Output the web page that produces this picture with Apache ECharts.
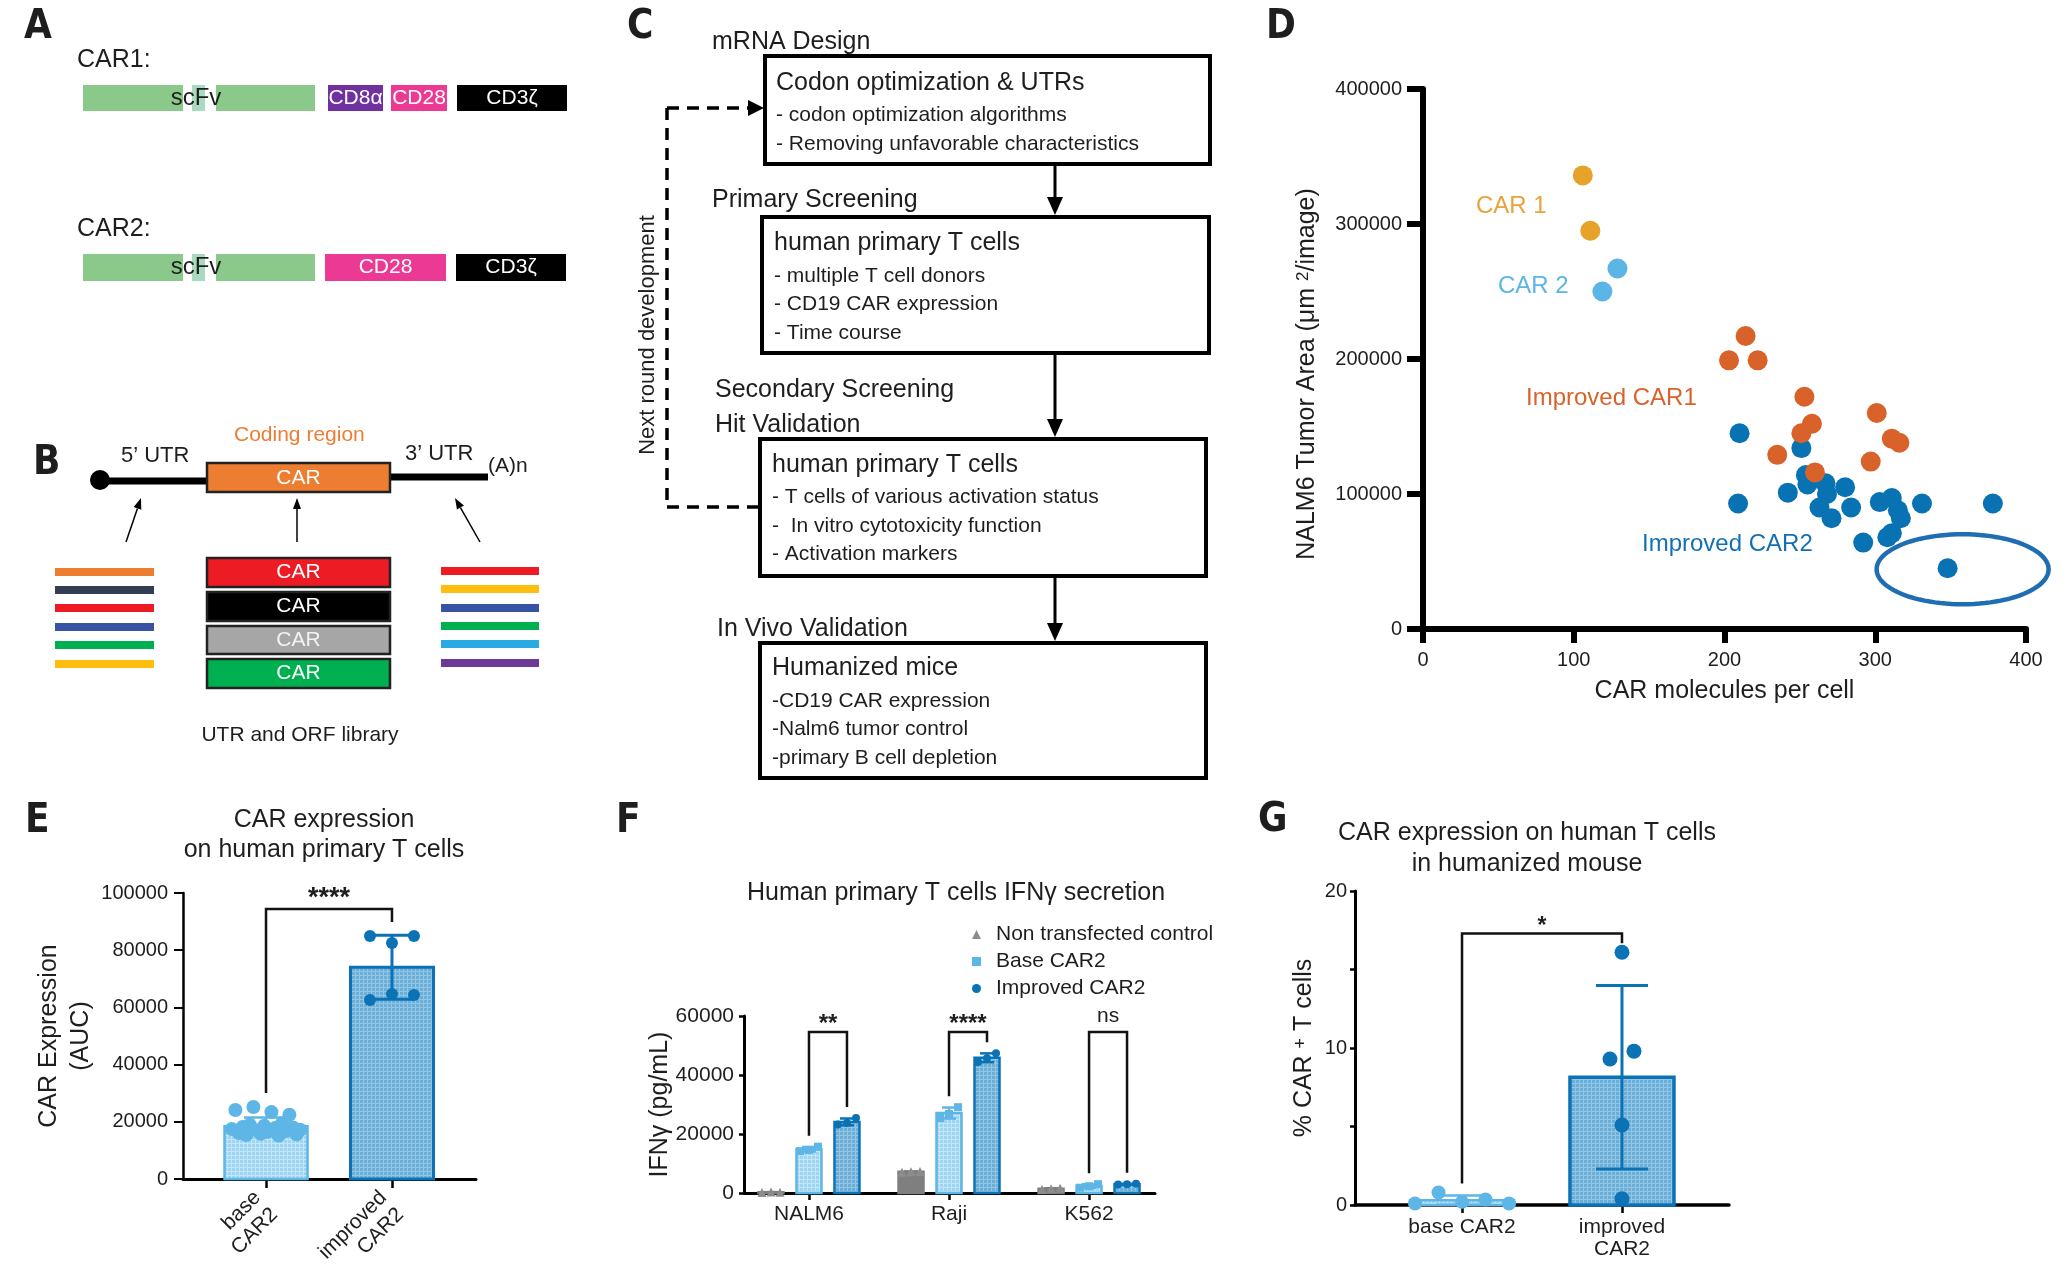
<!DOCTYPE html>
<html><head><meta charset="utf-8">
<script src="https://cdn.jsdelivr.net/npm/echarts@6.0.0/dist/echarts.min.js"></script>
<style>html,body{margin:0;padding:0;background:#fff}#c{width:2069px;height:1282px}</style>
</head><body><div id="c"></div>
<script>
// ================= DATA =================
// Panel D: [CAR molecules per cell, NALM6 tumor area]
const dCar1 = [[106, 336000], [111, 295000]];
const dCar2 = [[129, 267000], [119, 250000]];
const dImprovedCar1 = [[214, 217000], [203, 199000], [222, 199000], [253, 172000], [301, 160000], [258, 152000],
  [251, 145000], [235, 129000], [260, 116000], [297, 124000], [311, 141000], [316, 138000]];
const dImprovedCar2 = [[210, 145000], [251, 134000], [254, 114000], [255, 107000], [242, 101000], [267, 108000],
  [268, 100000], [280, 105000], [209, 93000], [263, 90000], [271, 82000], [284, 90000], [303, 94000], [311, 97000],
  [315, 88000], [317, 82000], [331, 93000], [378, 93000], [292, 64000], [308, 68000], [311, 71000], [348, 45000]];
const dLabels = ['CAR 1', 'CAR 2', 'Improved CAR1', 'Improved CAR2'];

// Panel E
const eCategories = ['base\nCAR2', 'improved\nCAR2'];
const eBaseCAR2 = [17500, 24100, 16100, 18200, 15400, 19000, 25200, 17000, 15800, 18600,
  16500, 23400, 17800, 15200, 19500, 16800, 22500, 18000, 15600, 17200];
const eImprovedCAR2 = [85000, 82500, 85000, 62600, 64700, 64300];
const eSignif = '****';

// Panel F
const fCategories = ['NALM6', 'Raji', 'K562'];
const fSeriesNames = ['Non transfected control', 'Base CAR2', 'Improved CAR2'];
const fNonTransfected = [[200, 300, 250], [7000, 7200, 7300], [1200, 1400, 1600]];
const fBaseCAR2 = [[14200, 14600, 15700], [25400, 26800, 29100], [1800, 2300, 3000]];
const fImprovedCAR2 = [[23200, 23700, 25400], [44400, 45700, 47400], [2900, 3000, 3100]];
const fSignif = ['**', '****', 'ns'];
const fBracketTop = 54600;

// Panel G
const gCategories = ['base CAR2', 'improved\nCAR2'];
const gBaseCAR2 = [0.1, 0.8, 0.2, 0.35, 0.1];
const gImprovedCAR2 = [16.1, 9.3, 9.8, 5.1, 0.4];
const gSignif = '*';
const eBracketTop = 94400, gBracketTop = 17.3;

// ================= STYLE / LAYOUT =================
const FONT = "'Liberation Sans', Arial, Helvetica, sans-serif";
const LETTER_FONT = "'Liberation Sans Narrow', 'DejaVu Sans Condensed', 'Liberation Sans', sans-serif";
const INK = '#1e1e1e';
const LIGHT = '#5DB6E6', DARK = '#0B72B6', GRAY = '#7F7F7F';
function hatch(base, lineColor) {
  const c = document.createElement('canvas'); c.width = 4; c.height = 4;
  const g = c.getContext('2d');
  g.fillStyle = base; g.fillRect(0, 0, 4, 4);
  g.fillStyle = lineColor; g.fillRect(3, 0, 1, 4); g.fillRect(0, 3, 4, 1);
  return {image: c, repeat: 'repeat'};
}
const LIGHT_FILL = hatch('#9DD5F2', '#C3E6F8'), DARK_FILL = hatch('#6BAFD9', '#93C5E5');
const GRIDS = {
  D: {left: 1423, top: 89, width: 603, height: 540},
  E: {left: 183, top: 893, width: 293, height: 286},
  F: {left: 744, top: 1016, width: 411, height: 177},
  G: {left: 1355, top: 891, width: 374, height: 314}
};
const E_X = {min: -0.659, max: 1.667}, F_X = {min: -0.464, max: 2.471}, G_X = {min: -0.669, max: 1.669};
const E_XPX = GRIDS.E.width / (E_X.max - E_X.min), F_XPX = GRIDS.F.width / (F_X.max - F_X.min), G_XPX = GRIDS.G.width / (G_X.max - G_X.min);
const E_YPX = GRIDS.E.height / 100000, F_YPX = GRIDS.F.height / 60000, G_YPX = GRIDS.G.height / 20;
const F_OFF = 38 / F_XPX; // offset of grey / dark bar from group centre

// ================= HELPERS =================
const mean = a => a.reduce((s, v) => s + v, 0) / a.length;
const sd = a => { const m = mean(a); return Math.sqrt(a.reduce((s, v) => s + (v - m) * (v - m), 0) / (a.length - 1)); };
function spreadOffsets(values, pxPerUnit, diam, stepPx) {
  const idx = values.map((v, i) => i).sort((a, b) => values[a] - values[b]);
  const clusters = []; let cur = [idx[0]];
  for (let k = 1; k < idx.length; k++) {
    if ((values[idx[k]] - values[idx[k - 1]]) * pxPerUnit < diam) cur.push(idx[k]);
    else { clusters.push(cur); cur = [idx[k]]; }
  }
  clusters.push(cur);
  const off = new Array(values.length).fill(0);
  clusters.forEach(c => { c.sort((a, b) => a - b); c.forEach((i, j) => { off[i] = (j - (c.length - 1) / 2) * stepPx; }); });
  return off;
}
function points(x, vals, xpx, ypx, diam, step) {
  const off = spreadOffsets(vals, ypx, diam, step);
  return vals.map((v, k) => [x + off[k] / xpx, v]);
}
function barSeries(ax, items, w) {
  return {type: 'custom', xAxisIndex: ax, yAxisIndex: ax, silent: true, z: 2,
    data: items.map(it => [it.x, mean(it.vals)]),
    renderItem: (p, api) => {
      const it = items[p.dataIndex];
      const a = api.coord([api.value(0), 0]), b = api.coord([api.value(0), api.value(1)]);
      return {type: 'rect', shape: {x: a[0] - w / 2, y: b[1], width: w, height: a[1] - b[1]},
        style: {fill: it.fill, stroke: it.stroke, lineWidth: it.lw}};
    }};
}
function errSeries(ax, items, cap) {
  return {type: 'custom', xAxisIndex: ax, yAxisIndex: ax, silent: true, z: 3,
    data: items.map(it => [it.x, mean(it.vals), sd(it.vals)]),
    renderItem: (p, api) => {
      const it = items[p.dataIndex];
      const x = api.value(0), m = api.value(1), s = api.value(2);
      const t = api.coord([x, m + s]), b = api.coord([x, Math.max(0, m - s)]);
      const st = {stroke: it.stroke, lineWidth: it.lw};
      return {type: 'group', children: [
        {type: 'line', shape: {x1: t[0], y1: t[1], x2: b[0], y2: b[1]}, style: st},
        {type: 'line', shape: {x1: t[0] - cap / 2, y1: t[1], x2: t[0] + cap / 2, y2: t[1]}, style: st},
        {type: 'line', shape: {x1: b[0] - cap / 2, y1: b[1], x2: b[0] + cap / 2, y2: b[1]}, style: st}
      ]};
    }};
}
function bracketSeries(ax, items) {
  return {type: 'custom', xAxisIndex: ax, yAxisIndex: ax, silent: true, z: 6,
    data: items.map(it => [it.x1, it.top]),
    renderItem: (p, api) => {
      const it = items[p.dataIndex];
      const a = api.coord([it.x1, it.left]), b = api.coord([it.x1, it.top]);
      const c = api.coord([it.x2, it.top]), d = api.coord([it.x2, it.right]);
      return {type: 'group', children: [
        {type: 'polyline', shape: {points: [a, b, c, d]}, style: {stroke: '#111', lineWidth: 2.5, fill: 'none'}},
        {type: 'text', style: {text: it.label, x: (b[0] + c[0]) / 2, y: b[1] - it.gap, fill: INK,
          font: it.font, textAlign: 'center', textVerticalAlign: 'middle'}}
      ]};
    }};
}

// ================= GRAPHIC (diagrams, titles, letters) =================
const G = [];
function txt(x, y, s, o = {}) {
  G.push({type: 'text', x, y, rotation: o.rot || 0, silent: true, z: 10,
    style: {text: s, fill: o.color || INK, font: (o.bold ? 'bold ' : '') + (o.size || 21) + 'px ' + (o.family || FONT),
      textAlign: o.align || 'left', textVerticalAlign: 'middle'}});
}
function rect(x, y, w, h, fill, stroke, lw) {
  G.push({type: 'rect', silent: true, shape: {x, y, width: w, height: h},
    style: {fill: fill || 'none', stroke: stroke || null, lineWidth: lw || 0}});
}
function line(x1, y1, x2, y2, color, lw, dash) {
  G.push({type: 'line', silent: true, shape: {x1, y1, x2, y2},
    style: {stroke: color || '#000', lineWidth: lw || 2, lineDash: dash || null}});
}
function poly(pts, fill) { G.push({type: 'polygon', silent: true, shape: {points: pts}, style: {fill: fill || '#000'}}); }
function arrow(x1, y1, x2, y2, lw, headL, headW) {
  const dx = x2 - x1, dy = y2 - y1, L = Math.hypot(dx, dy), ux = dx / L, uy = dy / L;
  const bx = x2 - ux * headL, by = y2 - uy * headL;
  line(x1, y1, bx, by, '#000', lw);
  poly([[x2, y2], [bx - uy * headW, by + ux * headW], [bx + uy * headW, by - ux * headW]]);
}
const letter = (x, y, s) => txt(x, y, s, {size: 40, bold: true, family: LETTER_FONT});

// Panel letters
letter(24, 28, 'A'); letter(33, 464, 'B'); letter(627, 28, 'C'); letter(1266, 28, 'D');
letter(25, 822, 'E'); letter(616, 822, 'F'); letter(1258, 821, 'G');

// Panel A
const GREEN = '#8BC98A', LINKER = '#A9D9BE';
txt(77, 60, 'CAR1:', {size: 25});
rect(83, 85, 100, 26, GREEN); rect(192, 85, 13, 26, LINKER); rect(216, 85, 99, 26, GREEN);
rect(328, 85, 55, 26, '#7030A0'); rect(391, 85, 56, 26, '#EC3A94'); rect(457, 85, 110, 26, '#000');
txt(196, 98, 'scFv', {size: 24, align: 'center'});
txt(355.5, 98, 'CD8α', {size: 21, align: 'center', color: '#fff'});
txt(419, 98, 'CD28', {size: 21, align: 'center', color: '#fff'});
txt(512, 98, 'CD3ζ', {size: 21, align: 'center', color: '#fff'});
txt(77, 229, 'CAR2:', {size: 25});
rect(83, 254, 100, 27, GREEN); rect(192, 254, 13, 27, LINKER); rect(216, 254, 99, 27, GREEN);
rect(325, 254, 121, 27, '#EC3A94'); rect(456, 254, 110, 27, '#000');
txt(196, 267, 'scFv', {size: 24, align: 'center'});
txt(385.5, 267, 'CD28', {size: 21, align: 'center', color: '#fff'});
txt(511, 267, 'CD3ζ', {size: 21, align: 'center', color: '#fff'});

// Panel B
G.push({type: 'circle', silent: true, shape: {cx: 100, cy: 480, r: 10}, style: {fill: '#000'}});
line(100, 481, 208, 481, '#000', 7);
line(389, 477, 488, 477, '#000', 7);
rect(207, 463, 183, 29, '#ED7D31', '#222', 2.5);
txt(298.5, 478, 'CAR', {size: 21, align: 'center', color: '#fff'});
txt(121, 456, '5’ UTR', {size: 22});
txt(234, 435, 'Coding region', {size: 21, color: '#ED7D31'});
txt(405, 454, '3’ UTR', {size: 22});
txt(488, 466, '(A)n', {size: 21});
arrow(126, 542, 141, 498, 1.5, 11, 4);
arrow(297, 542, 297, 498, 1.5, 11, 4);
arrow(480, 542, 455, 498, 1.5, 11, 4);
[['#ED7D31', 572], ['#333F50', 590], ['#ED1C24', 608], ['#3953A4', 627], ['#00B050', 645], ['#FDBE10', 664]]
  .forEach(([c, y]) => rect(55, y - 4, 99, 8, c));
[['#ED1C24', 571], ['#FDBE10', 589], ['#3953A4', 608], ['#00B050', 626], ['#29ABE2', 644], ['#6D3A96', 663]]
  .forEach(([c, y]) => rect(441, y - 4, 98, 8, c));
[['#ED1C24', 558, 29, '#fff'], ['#000000', 592, 29, '#fff'], ['#A6A6A6', 626, 28, '#f2f2f2'], ['#00B050', 659, 29, '#fff']]
  .forEach(([c, y, h, tc]) => { rect(207, y, 183, h, c, '#222', 2.5); txt(298.5, y + h / 2, 'CAR', {size: 21, align: 'center', color: tc}); });
txt(300, 735, 'UTR and ORF library', {size: 21, align: 'center'});

// Panel C
rect(765, 56, 445, 108, 'none', '#000', 4);
rect(762, 217, 447, 136, 'none', '#000', 4);
rect(760, 439, 446, 137, 'none', '#000', 4);
rect(760, 643, 446, 135, 'none', '#000', 4);
arrow(1055, 164, 1055, 215, 3, 18, 8);
arrow(1055, 353, 1055, 437, 3, 18, 8);
arrow(1055, 576, 1055, 641, 3, 18, 8);
line(667, 108, 667, 507, '#000', 3.5, [12, 8]);
line(667, 108, 748, 108, '#000', 3.5, [12, 8]);
poly([[764, 108], [748, 100], [748, 116]]);
line(667, 507, 760, 507, '#000', 3.5, [12, 8]);
txt(648, 335, 'Next round development', {size: 22, align: 'center', rot: Math.PI / 2});
txt(712, 42, 'mRNA Design', {size: 25});
txt(776, 83, 'Codon optimization & UTRs', {size: 25});
txt(776, 115, '- codon optimization algorithms', {size: 21});
txt(776, 144, '- Removing unfavorable characteristics', {size: 21});
txt(712, 200, 'Primary Screening', {size: 25});
txt(774, 243, 'human primary T cells', {size: 25});
txt(774, 276, '- multiple T cell donors', {size: 21});
txt(774, 304, '- CD19 CAR expression', {size: 21});
txt(774, 333, '- Time course', {size: 21});
txt(715, 390, 'Secondary Screening', {size: 25});
txt(715, 425, 'Hit Validation', {size: 25});
txt(772, 465, 'human primary T cells', {size: 25});
txt(772, 497, '- T cells of various activation status', {size: 21});
txt(772, 526, '-  In vitro cytotoxicity function', {size: 21});
txt(772, 554, '- Activation markers', {size: 21});
txt(717, 629, 'In Vivo Validation', {size: 25});
txt(772, 668, 'Humanized mice', {size: 25});
txt(772, 701, '-CD19 CAR expression', {size: 21});
txt(772, 729, '-Nalm6 tumor control', {size: 21});
txt(772, 758, '-primary B cell depletion', {size: 21});

// Panel D annotations
txt(1476, 206, dLabels[0], {size: 24, color: '#E8A33A'});
txt(1498, 286, dLabels[1], {size: 24, color: '#5BB5E6'});
txt(1526, 398, dLabels[2], {size: 24, color: '#D9622B'});
txt(1642, 544, dLabels[3], {size: 24, color: '#1470B4'});

// Titles
txt(324, 820, 'CAR expression', {size: 25, align: 'center'});
txt(324, 850, 'on human primary T cells', {size: 25, align: 'center'});
txt(956, 893, 'Human primary T cells IFNγ secretion', {size: 25, align: 'center'});
txt(1527, 833, 'CAR expression on human T cells', {size: 25, align: 'center'});
txt(1527, 864, 'in humanized mouse', {size: 25, align: 'center'});

// ================= SERIES =================
const series = [];
// D scatter
[[dCar1, '#E6A229', dLabels[0]], [dCar2, '#5BB5E6', dLabels[1]], [dImprovedCar2, '#0872B3', dLabels[3]], [dImprovedCar1, '#D9622B', dLabels[2]]]
  .forEach(([d, c, n]) => series.push({type: 'scatter', name: 'D ' + n, xAxisIndex: 0, yAxisIndex: 0, data: d,
    symbolSize: 20, itemStyle: {color: c, opacity: 1}, z: 3, silent: true}));
const circled = dImprovedCar2.reduce((a, b) => (b[1] < a[1] ? b : a));
series.push({type: 'custom', xAxisIndex: 0, yAxisIndex: 0, silent: true, z: 5, data: [circled],
  renderItem: (p, api) => {
    const c = api.coord([api.value(0), api.value(1)]); const pts = [];
    for (let k = 0; k < 96; k++) { const t = k / 96 * 2 * Math.PI; pts.push([c[0] + 15 + 86 * Math.cos(t), c[1] + 1 + 35 * Math.sin(t)]); }
    return {type: 'polygon', shape: {points: pts}, style: {fill: 'none', stroke: '#1F6DB3', lineWidth: 4.5}};
  }});

// E
const eItems = [
  {x: 0, vals: eBaseCAR2, fill: LIGHT_FILL, stroke: LIGHT, lw: 2.5},
  {x: 1, vals: eImprovedCAR2, fill: DARK_FILL, stroke: DARK, lw: 3}];
series.push(barSeries(1, eItems, 83));
series.push(errSeries(1, [{x: 0, vals: eBaseCAR2, stroke: LIGHT, lw: 2.5}, {x: 1, vals: eImprovedCAR2, stroke: DARK, lw: 3}], 44));
series.push({type: 'scatter', name: 'E base', xAxisIndex: 1, yAxisIndex: 1, silent: true, z: 4,
  data: points(0, eBaseCAR2, E_XPX, E_YPX, 13, 3.6), symbolSize: 14, itemStyle: {color: LIGHT, opacity: 1}});
series.push({type: 'scatter', name: 'E improved', xAxisIndex: 1, yAxisIndex: 1, silent: true, z: 4,
  data: points(1, eImprovedCAR2, E_XPX, E_YPX, 11, 22), symbolSize: 12, itemStyle: {color: DARK, opacity: 1}});
series.push(bracketSeries(1, [{x1: 0, x2: 1, top: eBracketTop,
  left: Math.max(...eBaseCAR2) + 14 / E_YPX, right: Math.max(...eImprovedCAR2) + 14 / E_YPX,
  label: eSignif, font: 'bold 27px ' + FONT, gap: 10}]));

// F
const fGroups = [fNonTransfected, fBaseCAR2, fImprovedCAR2];
const fOffsets = [-F_OFF, 0, F_OFF];
const fFill = [GRAY, LIGHT_FILL, DARK_FILL], fStroke = [GRAY, LIGHT, DARK];
const fSymbols = ['triangle', 'rect', 'circle'], fSizes = [9, 8, 8];
const fBarItems = [], fErrItems = [];
fGroups.forEach((grp, s) => grp.forEach((vals, g) => {
  fBarItems.push({x: g + fOffsets[s], vals, fill: fFill[s], stroke: fStroke[s], lw: 2.5});
  fErrItems.push({x: g + fOffsets[s], vals, stroke: fStroke[s], lw: 2.5});
}));
series.push(barSeries(2, fBarItems, 25));
series.push(errSeries(2, fErrItems, 14));
fGroups.forEach((grp, s) => {
  const data = [];
  grp.forEach((vals, g) => data.push(...points(g + fOffsets[s], vals, F_XPX, F_YPX, 9, 9)));
  series.push({type: 'scatter', name: fSeriesNames[s], xAxisIndex: 2, yAxisIndex: 2, silent: true, z: 4, data,
    symbol: fSymbols[s], symbolSize: fSizes[s], itemStyle: {color: s === 0 ? '#8C8C8C' : fStroke[s], opacity: 1}});
});
series.push(bracketSeries(2, fCategories.map((c, g) => ({x1: g, x2: g + F_OFF, top: fBracketTop,
  left: Math.max(...fBaseCAR2[g], mean(fBaseCAR2[g]) + sd(fBaseCAR2[g])) + 11 / F_YPX,
  right: Math.max(...fImprovedCAR2[g], mean(fImprovedCAR2[g]) + sd(fImprovedCAR2[g])) + 11 / F_YPX,
  label: fSignif[g], font: fSignif[g] === 'ns' ? '21px ' + FONT : 'bold 24px ' + FONT, gap: fSignif[g] === 'ns' ? 16 : 8}))));

// G
series.push(barSeries(3, [
  {x: 0, vals: gBaseCAR2, fill: LIGHT_FILL, stroke: LIGHT, lw: 2.5},
  {x: 1, vals: gImprovedCAR2, fill: DARK_FILL, stroke: DARK, lw: 3.5}], 104));
series.push(errSeries(3, [{x: 0, vals: gBaseCAR2, stroke: LIGHT, lw: 2.5}, {x: 1, vals: gImprovedCAR2, stroke: DARK, lw: 3}], 52));
series.push({type: 'scatter', name: 'G base', xAxisIndex: 3, yAxisIndex: 3, silent: true, z: 4,
  data: points(0, gBaseCAR2, G_XPX, G_YPX, 13, 23.5), symbolSize: 14, itemStyle: {color: LIGHT, opacity: 1}});
series.push({type: 'scatter', name: 'G improved', xAxisIndex: 3, yAxisIndex: 3, silent: true, z: 4,
  data: points(1, gImprovedCAR2, G_XPX, G_YPX, 14, 24), symbolSize: 15, itemStyle: {color: DARK, opacity: 1}});
series.push(bracketSeries(3, [{x1: 0, x2: 1, top: gBracketTop,
  left: Math.max(...gBaseCAR2) + 9 / G_YPX, right: Math.max(...gImprovedCAR2) + 9 / G_YPX,
  label: gSignif, font: 'bold 23px ' + FONT, gap: 7}]));

// ================= AXES =================
const lab = (o) => Object.assign({color: INK, fontFamily: FONT}, o);
const nameStyle = (o) => Object.assign({color: INK, fontFamily: FONT, fontSize: 25}, o);
const num = v => String(v);
const xAxis = [
  {gridIndex: 0, type: 'value', min: 0, max: 400, interval: 100,
    axisLine: {show: true, onZero: false, lineStyle: {color: '#000', width: 6}},
    axisTick: {show: true, length: 14, lineStyle: {color: '#000', width: 6}},
    axisLabel: lab({fontSize: 20, margin: 21, formatter: num}), splitLine: {show: false},
    name: 'CAR molecules per cell', nameLocation: 'middle', nameGap: 50, nameMoveOverlap: false, nameTextStyle: nameStyle({})},
  {gridIndex: 1, type: 'value', min: E_X.min, max: E_X.max,
    axisLine: {show: true, onZero: false, lineStyle: {color: '#000', width: 3}},
    axisTick: {show: true, customValues: [0, 1], length: 9, lineStyle: {color: '#000', width: 2.5}},
    axisLabel: lab({customValues: [0, 1], formatter: v => eCategories[Math.round(v)], rotate: 45, margin: 24, fontSize: 21, lineHeight: 24}),
    splitLine: {show: false}},
  {gridIndex: 2, type: 'value', min: F_X.min, max: F_X.max,
    axisLine: {show: true, onZero: false, lineStyle: {color: '#000', width: 3}},
    axisTick: {show: true, customValues: [0, 1, 2], length: 7, lineStyle: {color: '#000', width: 2.5}},
    axisLabel: lab({customValues: [0, 1, 2], formatter: v => fCategories[Math.round(v)], margin: 11, fontSize: 21}),
    splitLine: {show: false}},
  {gridIndex: 3, type: 'value', min: G_X.min, max: G_X.max,
    axisLine: {show: true, onZero: false, lineStyle: {color: '#000', width: 3.5}},
    axisTick: {show: true, customValues: [0, 1], length: 8, lineStyle: {color: '#000', width: 2.5}},
    axisLabel: lab({customValues: [0, 1], formatter: v => gCategories[Math.round(v)], margin: 11, fontSize: 21, lineHeight: 22}),
    splitLine: {show: false}}
];
const yAxis = [
  {gridIndex: 0, type: 'value', min: 0, max: 400000, interval: 100000,
    axisLine: {show: true, onZero: false, lineStyle: {color: '#000', width: 6}},
    axisTick: {show: true, length: 16, lineStyle: {color: '#000', width: 6}},
    axisLabel: lab({fontSize: 20, margin: 21, formatter: num}), splitLine: {show: false},
    name: 'NALM6 Tumor Area (μm {sup|2}/image)', nameLocation: 'middle', nameRotate: 90, nameGap: 103, nameMoveOverlap: false,
    nameTextStyle: nameStyle({padding: [0, 30, 0, 0], rich: {sup: {fontSize: 17, fontFamily: FONT, color: INK, verticalAlign: 'top'}}})},
  {gridIndex: 1, type: 'value', min: 0, max: 100000, interval: 20000,
    axisLine: {show: true, onZero: false, lineStyle: {color: '#000', width: 2.5}},
    axisTick: {show: true, length: 9, lineStyle: {color: '#000', width: 2}},
    axisLabel: lab({fontSize: 20, margin: 15, formatter: num}), splitLine: {show: false},
    name: 'CAR Expression\n(AUC)', nameLocation: 'middle', nameRotate: 90, nameGap: 86, nameMoveOverlap: false,
    nameTextStyle: nameStyle({lineHeight: 32})},
  {gridIndex: 2, type: 'value', min: 0, max: 60000, interval: 20000,
    axisLine: {show: true, onZero: false, lineStyle: {color: '#000', width: 3}},
    axisTick: {show: true, length: 5, lineStyle: {color: '#000', width: 2.5}},
    axisLabel: lab({fontSize: 21, margin: 10, formatter: num}), splitLine: {show: false},
    name: 'IFNγ (pg/mL)', nameLocation: 'middle', nameRotate: 90, nameGap: 71, nameMoveOverlap: false,
    nameTextStyle: nameStyle({})},
  {gridIndex: 3, type: 'value', min: 0, max: 20, interval: 5,
    axisLine: {show: true, onZero: false, lineStyle: {color: '#000', width: 3}},
    axisTick: {show: true, length: 5, lineStyle: {color: '#000', width: 2.5}},
    axisLabel: lab({fontSize: 20, margin: 8, formatter: v => (v % 10 === 0 ? String(v) : '')}), splitLine: {show: false},
    name: '% CAR {sup|+} T cells', nameLocation: 'middle', nameRotate: 90, nameGap: 38, nameMoveOverlap: false,
    nameTextStyle: nameStyle({rich: {sup: {fontSize: 18, fontFamily: FONT, color: INK, verticalAlign: 'top'}}})}
];

const chart = echarts.init(document.getElementById('c'));
chart.setOption({
  animation: false,
  backgroundColor: '#fff',
  textStyle: {fontFamily: FONT},
  grid: ['D', 'E', 'F', 'G'].map(k => Object.assign({outerBoundsMode: 'none', containLabel: false}, GRIDS[k])),
  xAxis, yAxis, series,
  legend: {
    data: [{name: fSeriesNames[0], icon: 'triangle'}, {name: fSeriesNames[1], icon: 'rect'}, {name: fSeriesNames[2], icon: 'circle'}],
    orient: 'vertical', left: 967, top: 919, itemWidth: 9, itemHeight: 9, itemGap: 6, selectedMode: false,
    textStyle: {fontSize: 21, lineHeight: 21, color: INK, fontFamily: FONT, padding: [0, 0, 0, 10]}
  },
  graphic: {elements: G}
});
</script>
</body></html>
